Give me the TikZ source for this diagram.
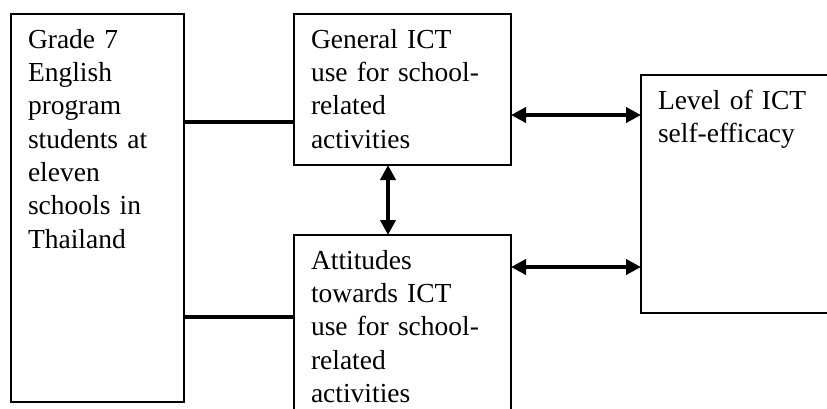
\documentclass[tikz,border=0pt]{standalone}
\usepackage{fontspec}
\setmainfont{Liberation Serif}
\usetikzlibrary{arrows.meta,positioning}

\begin{document}
\begin{tikzpicture}[x=1pt,y=-1pt,font=\fontsize{27.5}{33.3}\selectfont,
    box/.style={draw=black,line width=2pt,outer sep=0pt,anchor=north west,
                align=left,inner xsep=17pt,inner ysep=15.5pt,text height=18.8pt},
    link/.style={line width=4pt},
    both/.style={line width=4pt,{Triangle[length=15pt,width=15pt]}-{Triangle[length=15pt,width=15pt]}}]
    \useasboundingbox (0,0) rectangle (827,409);
    \clip (0,0) rectangle (827,409);
    \node[box,text width=139pt,text depth=338.2pt] (grade) at (11,14) {
      Grade 7\\
      English\\
      program\\
      students at\\
      eleven\\
      schools in\\
      Thailand
    };
    \node[box,text width=183pt,text depth=101.2pt] (gen) at (294,14) {
      General ICT\\
      use for school-\\
      related\\
      activities
    };
    \node[box,text width=183pt,text depth=145pt,anchor=north,below=70pt of gen] (att) {
      Attitudes\\
      towards ICT\\
      use for school-\\
      related\\
      activities
    };
    \node[box,text width=175pt,text depth=188.2pt] (lev) at (641,75) {
      Level of ICT\\
      self-efficacy
    };
    \coordinate (gl) at ([yshift=-108pt]gen.north west);
    \coordinate (al) at ([yshift=-82pt]att.north west);
    \coordinate (ga) at ([yshift=-101pt]gen.north east);
    \coordinate (aa) at ([yshift=-32pt]att.north east);
    \coordinate (gv) at ([xshift=94pt]gen.south west);
    \draw[link] (grade.east |- gl) -- (gl);
    \draw[link] (grade.east |- al) -- (al);
    \draw[both] (ga) -- (lev.west |- ga);
    \draw[both] (aa) -- (lev.west |- aa);
    \draw[both] (gv) -- (att.north -| gv);
  \end{tikzpicture}
\end{document}
